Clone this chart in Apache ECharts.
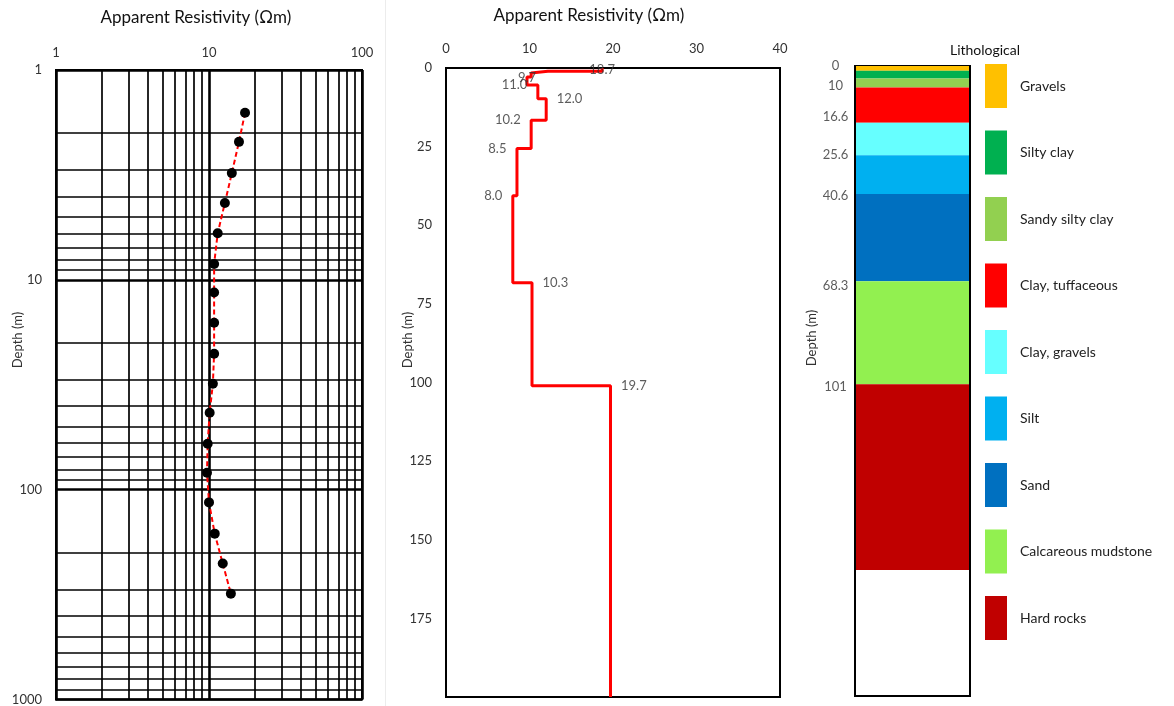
<!DOCTYPE html>
<html><head><meta charset="utf-8">
<script src="https://cdn.jsdelivr.net/npm/echarts@6/dist/echarts.min.js"></script>
<style>html,body{margin:0;padding:0;background:#fff}#c{width:1174px;height:706px}</style>
</head><body><div id="c"></div>
<script>
// ---- Left panel: apparent resistivity sounding curve (log-log) ----
const vesDepth = [1.6, 2.2, 3.1, 4.3, 6.0, 8.4, 11.5, 16, 22.5, 31.3, 43, 60.4, 83, 115, 162, 225, 313];
const vesRes   = [17.2, 15.7, 14.1, 12.7, 11.4, 10.8, 10.8, 10.8, 10.8, 10.6, 10.1, 9.8, 9.7, 10.0, 10.9, 12.3, 13.9];

// ---- Middle panel: layered resistivity model ----
const layerRes    = [18.7, 12.2, 10.2, 9.7, 11.0, 12.0, 10.2, 8.5, 8.0, 10.3, 19.7];
const layerTop    = [0, 1.0, 1.6, 2.9, 5.4, 9.8, 16.6, 25.6, 40.6, 68.3, 101];
const layerBottom = [1.0, 1.6, 2.9, 5.4, 9.8, 16.6, 25.6, 40.6, 68.3, 101, 200];
const modelLabelText  = ['18.7', '9.7', '11.0', '12.0', '10.2', '8.5', '8.0', '10.3', '19.7'];
const modelLabelRes   = [18.7, 9.7, 11.0, 12.0, 10.2, 8.5, 8.0, 10.3, 19.7];
const modelLabelDepth = [0.6, 3.2, 5.4, 9.8, 16.6, 25.6, 40.6, 68.3, 101];
const modelLabelSide  = ['inside', 'inside', 'left', 'right', 'left', 'left', 'left', 'right', 'right'];

// ---- Right panel: lithological column ----
const lithNames  = ['Gravels', 'Silty clay', 'Sandy silty clay', 'Clay, tuffaceous', 'Clay, gravels', 'Silt', 'Sand', 'Calcareous mudstone', 'Hard rocks'];
const lithTop    = [0, 1.5, 4, 6.8, 18, 28.3, 40.6, 68.3, 101];
const lithBottom = [1.5, 4, 6.8, 18, 28.3, 40.6, 68.3, 101, 160];
const lithColors = ['#FFC000', '#00B050', '#92D050', '#FF0000', '#66FFFF', '#00B0F0', '#0070C0', '#92F050', '#C00000'];
const lithLabelText  = ['0', '10', '16.6', '25.6', '40.6', '68.3', '101'];
const lithLabelDepth = [0, 6.3, 16.2, 28.2, 41.3, 69.9, 102];

const FONT = 'Lato';
const LABEL_COLOR = '#333333';

const stepData = [];
layerRes.forEach((r, i) => { stepData.push([r, layerTop[i]]); stepData.push([r, layerBottom[i]]); });

const lithSeries = lithNames.map((name, i) => ({
  type: 'custom', name: name, xAxisIndex: 2, yAxisIndex: 2,
  itemStyle: { color: lithColors[i] },
  data: [[lithTop[i], lithBottom[i]]],
  encode: { y: [0, 1] },
  renderItem: function (params, api) {
    const p1 = api.coord([0, api.value(0)]);
    const p2 = api.coord([1, api.value(1)]);
    return { type: 'rect', shape: { x: p1[0] + 1, y: p1[1], width: p2[0] - p1[0] - 2, height: p2[1] - p1[1] },
      style: { fill: lithColors[i] } };
  }
}));

const plainNum = v => String(Math.round(v));

const chart = echarts.init(document.getElementById('c'), null, { renderer: 'canvas' });
chart.setOption({
  animation: false,
  textStyle: { fontFamily: FONT },
  grid: [
    { left: 56, top: 70, width: 306, height: 630, show: true, borderColor: '#000', borderWidth: 2, backgroundColor: 'transparent' },
    { left: 446, top: 68, width: 334, height: 629, show: true, borderColor: '#000', borderWidth: 2, backgroundColor: 'transparent' },
    { left: 855, top: 66, width: 115, height: 630, show: true, borderColor: '#000', borderWidth: 2, backgroundColor: 'transparent' }
  ],
  xAxis: [
    { type: 'log', logBase: 10, gridIndex: 0, position: 'top', min: 1, max: 100,
      axisLine: { show: true, lineStyle: { color: '#000', width: 2 } }, axisTick: { show: false },
      axisLabel: { color: LABEL_COLOR, fontSize: 13, margin: 11, fontFamily: FONT, formatter: plainNum },
      splitLine: { show: true, lineStyle: { color: '#000', width: 2.6 } },
      minorTick: { show: false, splitNumber: 9 },
      minorSplitLine: { show: true, lineStyle: { color: '#000', width: 1.7 } } },
    { type: 'value', gridIndex: 1, position: 'top', min: 0, max: 40, interval: 10,
      axisLine: { show: true, lineStyle: { color: '#000', width: 2 } }, axisTick: { show: false },
      axisLabel: { color: LABEL_COLOR, fontSize: 13, margin: 13, fontFamily: FONT },
      splitLine: { show: false } },
    { type: 'value', gridIndex: 2, min: 0, max: 1, show: false, splitLine: { show: false } }
  ],
  yAxis: [
    { type: 'log', logBase: 10, gridIndex: 0, inverse: true, min: 1, max: 1000,
      axisLine: { show: true, lineStyle: { color: '#000', width: 2 } }, axisTick: { show: false },
      axisLabel: { color: LABEL_COLOR, fontSize: 13, margin: 14, fontFamily: FONT, formatter: plainNum },
      splitLine: { show: true, lineStyle: { color: '#000', width: 2.6 } },
      minorTick: { show: false, splitNumber: 9 },
      minorSplitLine: { show: true, lineStyle: { color: '#000', width: 1.7 } } },
    { type: 'value', gridIndex: 1, inverse: true, min: 0, max: 200, interval: 25,
      axisLine: { show: true, lineStyle: { color: '#000', width: 2 } }, axisTick: { show: false },
      axisLabel: { color: LABEL_COLOR, fontSize: 13, margin: 14, showMaxLabel: false, fontFamily: FONT },
      splitLine: { show: false } },
    { type: 'value', gridIndex: 2, inverse: true, min: 0, max: 200, show: false, splitLine: { show: false } }
  ],
  legend: {
    data: lithNames, orient: 'vertical', left: 985, top: 64, padding: 0,
    itemWidth: 22, itemHeight: 44, itemGap: 22.5, icon: 'rect', selectedMode: false,
    textStyle: { fontSize: 14, color: '#222', fontFamily: FONT, padding: [0, 0, 0, 8] }
  },
  series: [
    { type: 'line', xAxisIndex: 0, yAxisIndex: 0,
      data: vesRes.map((r, i) => [r, vesDepth[i]]),
      symbol: 'circle', symbolSize: 10, showSymbol: true,
      itemStyle: { color: '#000' },
      lineStyle: { color: '#FF0000', width: 2, type: [5, 3] },
      emphasis: { disabled: true }, z: 3 },
    { type: 'line', xAxisIndex: 1, yAxisIndex: 1, data: stepData,
      symbol: 'none', lineStyle: { color: '#FF0000', width: 3 }, emphasis: { disabled: true } },
    { type: 'scatter', xAxisIndex: 1, yAxisIndex: 1, symbolSize: 1,
      itemStyle: { color: 'rgba(0,0,0,0)' }, emphasis: { disabled: true }, z: 5,
      data: modelLabelRes.map((r, i) => ({
        value: [r, modelLabelDepth[i]],
        label: { show: true, formatter: modelLabelText[i], position: modelLabelSide[i], distance: 10,
          color: LABEL_COLOR, fontSize: 13, fontFamily: FONT }
      })) },
    ...lithSeries,
    { type: 'scatter', xAxisIndex: 2, yAxisIndex: 2, symbolSize: 1,
      itemStyle: { color: 'rgba(0,0,0,0)' }, emphasis: { disabled: true },
      data: lithLabelDepth.map((d, i) => ({
        value: [0, d],
        label: { show: true, formatter: lithLabelText[i], position: 'left', distance: 19, align: 'center',
          color: LABEL_COLOR, fontSize: 13, fontFamily: FONT }
      })) }
  ],
  graphic: [
    { type: 'line', shape: { x1: 385.5, y1: 0, x2: 385.5, y2: 706 }, style: { stroke: '#ececec', lineWidth: 1 } },
    { type: 'text', x: 196, y: 18, style: { text: 'Apparent Resistivity (\u03A9m)', font: '17px Lato', fill: '#111', align: 'center', verticalAlign: 'middle' } },
    { type: 'text', x: 589, y: 16, style: { text: 'Apparent Resistivity (\u03A9m)', font: '17px Lato', fill: '#111', align: 'center', verticalAlign: 'middle' } },
    { type: 'text', x: 985, y: 50, style: { text: 'Lithological', font: '14px Lato', fill: '#111', align: 'center', verticalAlign: 'middle' } },
    { type: 'text', x: 18, y: 340, rotation: Math.PI / 2, style: { text: 'Depth (m)', font: '13px Lato', fill: LABEL_COLOR, align: 'center', verticalAlign: 'middle' } },
    { type: 'text', x: 408, y: 340, rotation: Math.PI / 2, style: { text: 'Depth (m)', font: '13px Lato', fill: LABEL_COLOR, align: 'center', verticalAlign: 'middle' } },
    { type: 'text', x: 812, y: 338, rotation: Math.PI / 2, style: { text: 'Depth (m)', font: '13px Lato', fill: LABEL_COLOR, align: 'center', verticalAlign: 'middle' } }
  ]
});
</script>
</body></html>
